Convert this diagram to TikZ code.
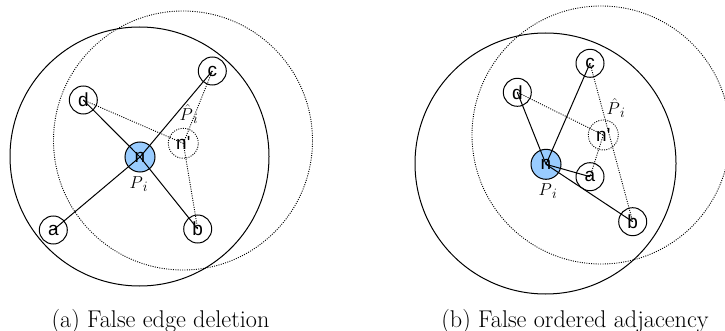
\documentclass[tikz,border=0pt]{standalone}
\usepackage{fontspec}
\newfontfamily\nodefont{Liberation Sans}
\definecolor{nblue}{RGB}{153,204,255}
\begin{document}
\begin{tikzpicture}[x=1pt,y=-1pt,
  vtx/.style={circle,draw,line width=1pt,minimum size=28pt,inner sep=0pt,
    font=\nodefont\fontsize{19}{19}\selectfont},
  hub/.style={vtx,fill=nblue,minimum size=30pt},
  ghost/.style={vtx,dash pattern=on 1pt off 1.3pt,line width=0.9pt,minimum size=30pt},
  big/.style={draw,line width=1pt},
  bigdot/.style={draw,line width=0.9pt,dash pattern=on 1pt off 1.3pt},
  edge/.style={draw,line width=1pt},
  dedge/.style={draw,line width=0.9pt,dash pattern=on 1pt off 1.3pt},
  lab/.style={font=\fontsize{19}{19}\selectfont,inner sep=0pt},
  captext/.style={font=\fontsize{24.2}{28}\selectfont,anchor=base,inner sep=0pt}]
\useasboundingbox (0,0) rectangle (725,331);

% ---------- (a) ----------
\path[big] (139.5,156.5) circle[radius=129.5pt];
\path[bigdot] (183,140.5) circle[radius=129.5pt];
\node[hub] (an) at (140,157) {n};
\node[vtx] (ad) at (83.3,100) {d};
\node[vtx] (ac) at (212.3,71) {c};
\node[vtx] (aa) at (53.3,230) {a};
\node[vtx] (ab) at (197.7,229) {b};
\node[ghost] (anp) at (183.3,143.3) {n'};
\node[lab] (aP) at (139,184) {$P_{\,i}$};
\node[lab] (aPh) at (189,114) {$\hat{P}_{\,i}$};
\path[edge] (an.center) -- (ad.center);
\path[edge] (an.center) -- (ac.center);
\path[edge] (an.center) -- (aa.center);
\path[edge] (an.center) -- (ab.center);
\path[dedge] (ad.center) -- (anp.center);
\path[dedge] (ac.center) -- (anp.center);
\path[dedge] (anp.center) -- (ab.center);
\node[captext] (capa) at (160.5,327) {(a) False edge deletion};

% ---------- (b) ----------
\path[big] (545.5,163.5) circle[radius=130.5pt];
\path[bigdot] (601,135) circle[radius=129pt];
\node[hub] (bn) at (546,164.3) {n};
\node[vtx] (bd) at (517.3,92.3) {d};
\node[vtx] (bc) at (590,63.3) {c};
\node[vtx] (ba) at (590,176.7) {a};
\node[vtx] (bb) at (632.7,221.7) {b};
\node[ghost] (bnp) at (603.3,135) {n'};
\node[lab] (bP) at (548,191) {$P_{\,i}$};
\node[lab] (bPh) at (616,108) {$\hat{P}_{\,i}$};
\path[edge] (bn.center) -- (bd.center);
\path[edge] (bn.center) -- (bc.center);
\path[edge] (bn.center) -- (ba.center);
\path[edge] (bn.center) -- (bb.center);
\path[dedge] (bd.center) -- (bnp.center);
\path[dedge] (bc.center) -- (bb.center);
\path[dedge] (bnp.center) -- (ba.center);
\node[captext] (capb) at (575,327) {(b) False ordered adjacency};
\end{tikzpicture}
\end{document}
